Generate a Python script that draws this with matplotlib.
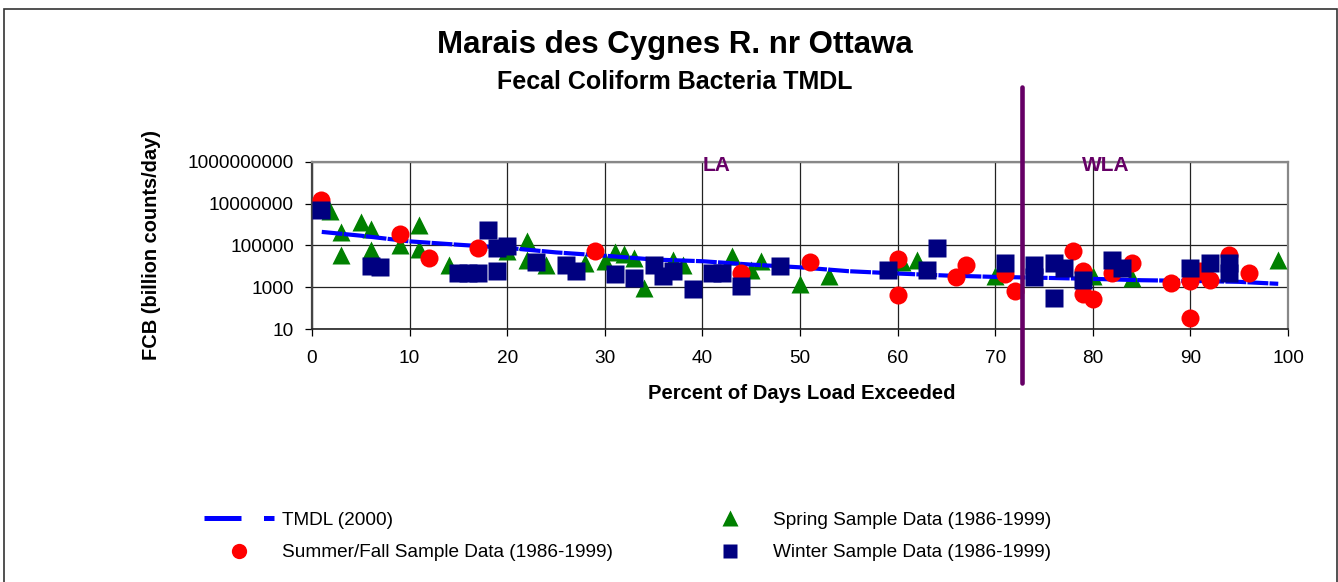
import numpy as np
import matplotlib
matplotlib.use('Agg')
import matplotlib.pyplot as plt
from matplotlib.lines import Line2D
from matplotlib.patches import Rectangle
import matplotlib.ticker as mticker

plt.rcParams['font.family'] = ['Liberation Sans', 'DejaVu Sans']

# ---- data
tmdl_x = [1, 5, 10, 15, 20, 25, 30, 35, 40, 45, 50, 55, 60, 65, 70, 75, 80, 85, 90, 95, 99]
tmdl_y = [4.4e5, 2.9e5, 1.55e5, 1.07e5, 7.6e4, 4.6e4, 3.2e4, 2.1e4, 1.74e4, 1.2e4,
          8.9e3, 5.8e3, 4.5e3, 3.6e3, 3.1e3, 2.8e3, 2.5e3, 2.15e3, 2.0e3, 1.8e3, 1.45e3]

spring_x = [1.8, 3, 3, 5, 6, 6, 9, 11, 11, 14, 20, 22, 22, 24, 28, 30, 31, 32, 33, 34,
            37, 38, 43, 45, 46, 50, 53, 60.4, 62, 70, 80, 84, 99]
spring_y = [4.2e6, 4.2e5, 3.6e4, 1.26e6, 6.0e5, 6.3e4, 1.07e5, 9.8e5, 6.9e4, 1.2e4,
            5.1e4, 1.55e5, 2.1e4, 1.1e4, 1.45e4, 1.7e4, 4.7e4, 3.9e4, 2.5e4, 930,
            2.1e4, 1.2e4, 3.0e4, 6.9e3, 1.7e4, 1.35e3, 3.3e3, 1.6e4, 2.1e4, 3.3e3,
            3.6e3, 2.8e3, 2.1e4]

summer_x = [0.9, 9, 12, 17, 29, 44, 51, 60, 60, 66, 67, 71, 72, 78, 79, 79, 80, 82,
            84, 88, 90, 90, 91, 92, 94, 96]
summer_y = [1.5e7, 3.5e5, 2.5e4, 7.8e4, 5.1e4, 4.9e3, 1.6e4, 2.3e4, 400, 3.2e3,
            1.1e4, 4.4e3, 650, 5.2e4, 5.8e3, 450, 260, 4.9e3, 1.5e4, 1.6e3, 1.9e3,
            32, 5.8e3, 2.1e3, 3.6e4, 4.9e3]

winter_x = [0.9, 6, 7, 15, 16, 17, 18, 19, 19, 20, 23, 26, 27, 31, 33, 35, 36, 37, 39,
            41, 42, 44, 48, 59, 63, 64, 71, 74, 74, 76, 76, 77, 79, 82, 83, 90, 92, 94, 94]
winter_y = [5e6, 1.0e4, 9.5e3, 4.9e3, 5.0e3, 4.9e3, 5.6e5, 5.8e3, 7.6e4, 9.8e4,
            1.55e4, 1.2e4, 5.8e3, 4.4e3, 2.6e3, 1.2e4, 3.6e3, 5.8e3, 830, 4.9e3,
            4.9e3, 1.2e3, 1.0e4, 6.9e3, 6.9e3, 7.6e4, 1.4e4, 1.2e4, 3.0e3, 1.4e4,
            320, 8.3e3, 2.3e3, 2.1e4, 8.3e3, 8.3e3, 1.4e4, 1.4e4, 4.9e3]

split_pct = 72.7
y_ticks = [10, 1000, 100000, 10000000, 1000000000]

# ---- figure
fig = plt.figure(figsize=(13.38, 5.82), dpi=100)
ax = fig.add_axes([312/1338, 1-329/582, 976/1338, 167.3/582])

ms = 13
ax.plot(spring_x, spring_y, '^', color='#008000', ms=ms, mec='none', zorder=3)
ax.plot(tmdl_x, tmdl_y, color='#0000FF', lw=3, ls=(0, (5, 0.3)), zorder=4,
        solid_capstyle='butt', dash_capstyle='butt')
ax.plot(summer_x, summer_y, 'o', color='#FF0000', ms=ms, mec='none', zorder=5)
ax.plot(winter_x, winter_y, 's', color='#000080', ms=ms, mec='none', zorder=6)

ax.axvline(split_pct, ymin=-0.32, ymax=1.445, color='#660066', lw=3.3,
           clip_on=False, solid_capstyle='round', zorder=7)

ax.set_yscale('log')
ax.set_ylim(10, 1e9)
ax.set_xlim(0, 100)
ax.set_yticks(y_ticks)
ax.yaxis.set_major_formatter(mticker.FuncFormatter(lambda v, p: '%d' % round(v)))
ax.yaxis.set_minor_locator(mticker.NullLocator())
ax.set_xticks(np.arange(0, 101, 10))
ax.tick_params(axis='both', direction='out', length=5, width=0.9, labelsize=13.7, color='black')
ax.tick_params(axis='y', pad=8)
ax.tick_params(axis='x', pad=10)
ax.grid(True, which='major', color='#222222', lw=0.9)
ax.set_axisbelow(True)

for side in ['top', 'right']:
    ax.spines[side].set_color('#888888')
    ax.spines[side].set_linewidth(1.6)
ax.spines['left'].set_color('#444444')
ax.spines['left'].set_linewidth(1.6)
ax.spines['bottom'].set_color('#222222')
ax.spines['bottom'].set_linewidth(1.2)

ax.set_ylabel('FCB (billion counts/day)', fontsize=14.4, fontweight='bold', va='center')
ax.yaxis.set_label_coords(-0.164, 0.5)
ax.set_xlabel('Percent of Days Load Exceeded', fontsize=14.6, fontweight='bold', va='center')
ax.xaxis.set_label_coords(0.502, -0.383)

ax.text(41.5, 0.98, 'LA', transform=ax.get_xaxis_transform(), color='#660066',
        fontsize=15, fontweight='bold', ha='center', va='center', zorder=8)
ax.text(81.3, 0.98, 'WLA', transform=ax.get_xaxis_transform(), color='#660066',
        fontsize=15, fontweight='bold', ha='center', va='center', zorder=8)

fig.text(0.5045, 1-45/582, 'Marais des Cygnes R. nr Ottawa', fontsize=22.5,
         fontweight='bold', ha='center', va='center')
fig.text(0.5045, 1-82/582, 'Fecal Coliform Bacteria TMDL', fontsize=18,
         fontweight='bold', ha='center', va='center')

# legend
h_tmdl = Line2D([], [], color='#0000FF', lw=3.6, ls=(0, (7.4, 4.5)))
h_summer = Line2D([], [], ls='none', marker='o', color='#FF0000', ms=11, mec='none')
h_spring = Line2D([], [], ls='none', marker='^', color='#008000', ms=11, mec='none')
h_winter = Line2D([], [], ls='none', marker='s', color='#000080', ms=10.5, mec='none')
leg = fig.legend([h_tmdl, h_summer, h_spring, h_winter],
                 ['TMDL (2000)', 'Summer/Fall Sample Data (1986-1999)',
                  'Spring Sample Data (1986-1999)', 'Winter Sample Data (1986-1999)'],
                 ncol=2, loc='center left', bbox_to_anchor=(204/1338, 1-536.5/582),
                 frameon=False, fontsize=13.7, handlelength=3.7, handletextpad=0.4,
                 columnspacing=4.3, labelspacing=0.8, borderpad=0, borderaxespad=0)

fig.patches.append(Rectangle((3.5/1338, -0.02), 1333/1338, 1.02 - 9/582, transform=fig.transFigure,
                             fill=False, edgecolor='#333333', lw=1.2))

fig.savefig('out.png', dpi=100)
